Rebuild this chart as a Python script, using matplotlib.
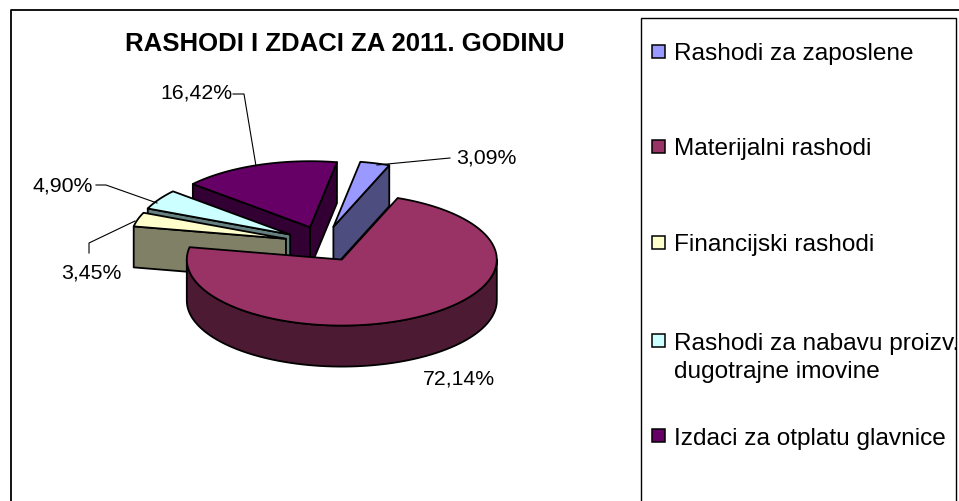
import numpy as np
import matplotlib
matplotlib.use("Agg")
import matplotlib.pyplot as plt
from matplotlib.patches import Rectangle

plt.rcParams['font.family'] = ['Liberation Sans', 'DejaVu Sans']

categories = ["Rashodi za zaposlene", "Materijalni rashodi", "Financijski rashodi",
              "Rashodi za nabavu proizv.\ndugotrajne imovine", "Izdaci za otplatu glavnice"]
values = [3.09, 72.14, 3.45, 4.90, 16.42]
value_labels = ["3,09%", "72,14%", "3,45%", "4,90%", "16,42%"]
top_colors = ["#9999FF", "#993366", "#FFFFCC", "#CCFFFF", "#660066"]
wall_colors = ["#4D4D80", "#4D1A33", "#808066", "#668080", "#330033"]

# pie geometry, in pixels of the picture
center_x, center_y = 323, 244
radius_x, radius_y = 155, 66
depth = 41
explode_x, explode_y = 0.25, 0.27
start_angle = 10
LW = 1.3


def ell(angle):
    a = np.radians(angle)
    return radius_x * np.sin(a), -radius_y * np.cos(a)


def draw_slice(ax, i, a0, a1):
    mid = (a0 + a1) / 2
    ex, ey = ell(mid)
    ax_x = center_x + explode_x * ex
    ax_y = center_y + explode_y * ey
    edge = dict(edgecolor="black", linewidth=LW, joinstyle="round")

    def radial_wall(angle):
        dx, dy = ell(angle)
        xs = [ax_x, ax_x + dx, ax_x + dx, ax_x]
        ys = [ax_y, ax_y + dy, ax_y + dy + depth, ax_y + depth]
        ax.fill(xs, ys, facecolor=wall_colors[i], **edge)

    # only walls that face the viewer
    if np.sin(np.radians(a0)) < 0:
        radial_wall(a0)
    if np.sin(np.radians(a1)) > 0:
        radial_wall(a1)
    # outer rim, front half only
    lo, hi = max(a0, 90), min(a1, 270)
    if lo < hi:
        t = np.linspace(lo, hi, 80)
        dx, dy = ell(t)
        xs = np.r_[ax_x + dx, (ax_x + dx)[::-1]]
        ys = np.r_[ax_y + dy, (ax_y + dy + depth)[::-1]]
        ax.fill(xs, ys, facecolor=wall_colors[i], **edge)
    # top face
    t = np.linspace(a0, a1, 120)
    dx, dy = ell(t)
    ax.fill(np.r_[ax_x, ax_x + dx], np.r_[ax_y, ax_y + dy], facecolor=top_colors[i], **edge)


fig = plt.figure(figsize=(9.59, 5.01), dpi=100)
ax = fig.add_axes([0, 0, 1, 1])
ax.set_xlim(0, 959)
ax.set_ylim(501, 0)
ax.axis("off")

# outer frame and legend box
ax.plot([11, 11, 959], [501, 10, 10], color="black", lw=1.3)
ax.add_patch(Rectangle((641, 18), 315, 490, facecolor="white", edgecolor="black", lw=1.0))

ax.text(345, 43.5, "RASHODI I ZDACI ZA 2011. GODINU", ha="center", va="center",
        fontsize=18.5, fontweight="bold", color="black")

angles = np.cumsum([0] + [v / sum(values) * 360 for v in values]) + start_angle
# back slices first, the big one last
for i in [4, 3, 2, 0, 1]:
    draw_slice(ax, i, angles[i], angles[i + 1])

# leader lines
leaders = [([377, 450], [165, 158]),
           ([233, 244, 256], [94, 94, 166]),
           ([96, 106, 157], [185, 185, 203]),
           ([89, 89, 135], [253, 243, 221])]
for xs, ys in leaders:
    ax.plot(xs, ys, color="black", lw=0.8)

label_pos = [(486, 158), (459, 379), (91, 273), (63, 186), (196, 93)]
for lab, (x, y) in zip(value_labels, label_pos):
    ax.text(x, y, lab, ha="center", va="center", fontsize=15.3, color="black")

# legend
marker_y = [52, 147, 243, 341, 436]
text_y = [53.5, 149.5, 244.5, 358, 438.5]
for i, cat in enumerate(categories):
    ax.add_patch(Rectangle((652, marker_y[i] - 7), 13, 13, facecolor=top_colors[i],
                           edgecolor="black", lw=1.1))
    ax.text(674, text_y[i], cat, ha="left", va="center", fontsize=17.6, color="black",
            linespacing=1.32)

fig.savefig("out.png", dpi=100)
